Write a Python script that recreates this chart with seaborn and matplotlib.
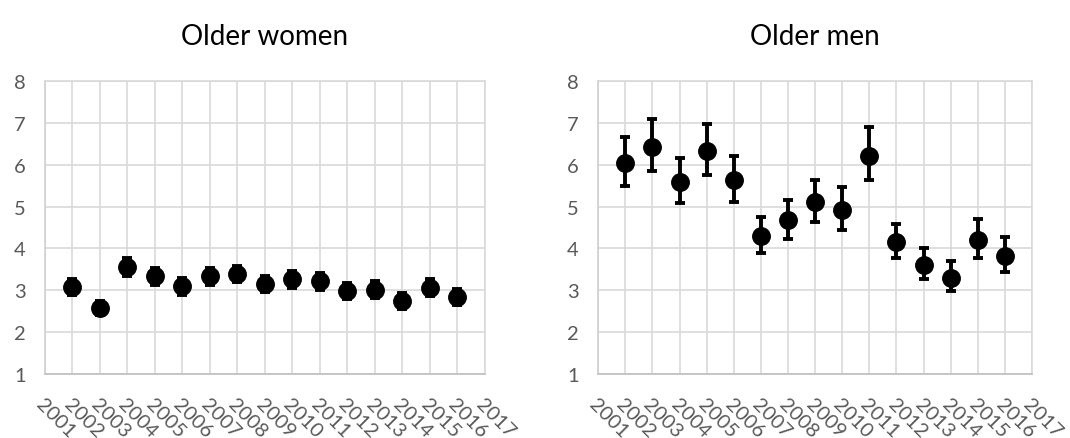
import matplotlib
matplotlib.use("Agg")
import matplotlib.pyplot as plt
import seaborn as sns
import pandas as pd

YEARS = [2002, 2003, 2004, 2005, 2006, 2007, 2008, 2009, 2010, 2011, 2012, 2013, 2014, 2015, 2016]
TICK_YEARS = list(range(2001, 2018))

WOMEN = [3.08, 2.58, 3.55, 3.33, 3.09, 3.33, 3.39, 3.14, 3.26, 3.21, 2.98, 3.01, 2.74, 3.06, 2.84]
WOMEN_LOW = [2.88, 2.42, 3.35, 3.13, 2.89, 3.13, 3.19, 2.95, 3.06, 3.01, 2.79, 2.82, 2.55, 2.86, 2.65]
WOMEN_HIGH = [3.28, 2.74, 3.76, 3.53, 3.29, 3.53, 3.59, 3.34, 3.46, 3.41, 3.18, 3.21, 2.93, 3.26, 3.04]

MEN = [6.03, 6.43, 5.58, 6.33, 5.64, 4.29, 4.67, 5.10, 4.92, 6.22, 4.15, 3.61, 3.30, 4.21, 3.83]
MEN_LOW = [5.49, 5.85, 5.08, 5.76, 5.11, 3.89, 4.23, 4.62, 4.43, 5.64, 3.76, 3.28, 2.98, 3.76, 3.43]
MEN_HIGH = [6.67, 7.09, 6.15, 6.98, 6.22, 4.75, 5.16, 5.64, 5.46, 6.91, 4.59, 4.00, 3.69, 4.71, 4.28]

TITLES = ["Older women", "Older men"]

sns.set_theme(style="whitegrid")
plt.rcParams["font.family"] = ["Lato", "DejaVu Sans"]

fig = plt.figure(figsize=(10.7, 4.39), dpi=100)
ax_left = fig.add_axes([0.042, 0.146, 0.411, 0.667])
ax_right = fig.add_axes([0.559, 0.146, 0.4056, 0.667])

panels = [
    (ax_left, WOMEN, WOMEN_LOW, WOMEN_HIGH, TITLES[0]),
    (ax_right, MEN, MEN_LOW, MEN_HIGH, TITLES[1]),
]

for ax, vals, low, high, title in panels:
    df = pd.DataFrame({"year": YEARS, "value": vals, "low": low, "high": high})
    yerr = [df["value"] - df["low"], df["high"] - df["value"]]
    ax.errorbar(df["year"], df["value"], yerr=yerr, fmt="none", ecolor="black",
                elinewidth=2.8, capsize=3.5, capthick=2.8, zorder=3)
    sns.scatterplot(data=df, x="year", y="value", color="black", s=185,
                    edgecolor="black", linewidth=0, ax=ax, zorder=4)
    ax.set_xlim(2001, 2017)
    ax.set_ylim(1, 8)
    ax.set_xticks(TICK_YEARS)
    ax.set_xticklabels([str(y) for y in TICK_YEARS], rotation=-45, ha="left",
                       va="top", rotation_mode="anchor")
    ax.set_yticks(range(1, 9))
    ax.tick_params(axis="both", length=0, labelsize=14.5, labelcolor="#595959")
    ax.tick_params(axis="x", pad=15)
    ax.tick_params(axis="y", pad=14)
    ax.grid(True, color="#d9d9d9", linewidth=1.2)
    for side, spine in ax.spines.items():
        spine.set_visible(True)
        spine.set_color("#d9d9d9")
        spine.set_linewidth(1.2)
    ax.spines["bottom"].set_color("#bfbfbf")
    ax.spines["left"].set_color("#d0d0d0")
    ax.set_xlabel("")
    ax.set_ylabel("")
    ax.set_facecolor("white")
    ax.set_title(title, fontsize=20, color="black", pad=27)

fig.savefig("out.png", dpi=100, facecolor="white")
